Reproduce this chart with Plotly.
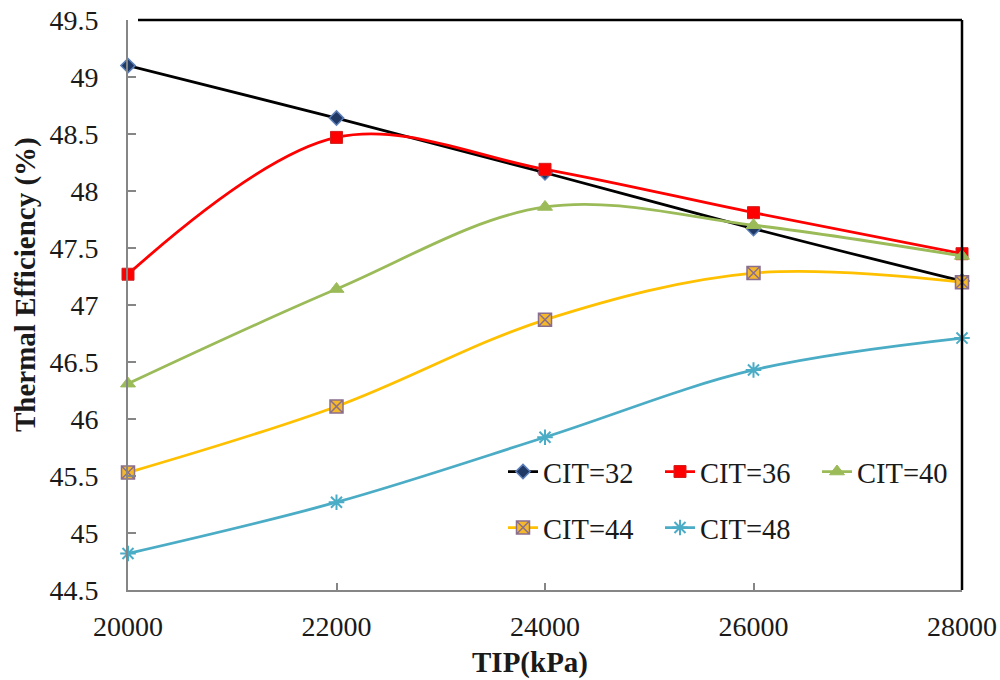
import plotly.graph_objects as go

tip = [20000, 22000, 24000, 26000, 28000]
cit32 = [49.10, 48.64, 48.16, 47.67, 47.21]
cit36 = [47.27, 48.47, 48.19, 47.81, 47.45]
cit40 = [46.31, 47.14, 47.86, 47.70, 47.43]
cit44 = [45.53, 46.11, 46.87, 47.28, 47.20]
cit48 = [44.82, 45.27, 45.84, 46.43, 46.71]
names = ["CIT=32", "CIT=36", "CIT=40", "CIT=44", "CIT=48"]
y_ticks = [44.5, 45, 45.5, 46, 46.5, 47, 47.5, 48, 48.5, 49, 49.5]
x_ticks = [20000, 22000, 24000, 26000, 28000]

FONT = "Times New Roman, Liberation Serif, Tinos, serif"
W, H = 1000, 680
ML, MR, MT, MB = 128, 38, 20, 90
PW, PH = W - ML - MR, H - MT - MB

def px_x(p):
    return (p - ML) / PW

def px_y(p):
    return (H - MB - p) / PH

styles = [
    dict(line=dict(color="black", width=2.8, shape="spline"),
         marker=dict(symbol="diamond", size=11, color="#1F3864",
                     line=dict(color="#5B7DB8", width=1.5)), legend="legend"),
    dict(line=dict(color="#FF0000", width=2.8, shape="spline"),
         marker=dict(symbol="square", size=12, color="#FF0000",
                     line=dict(color="#D02020", width=1)), legend="legend"),
    dict(line=dict(color="#9BBB59", width=2.8, shape="spline"),
         marker=dict(symbol="triangle-up", size=13, color="#9BBB59",
                     line=dict(color="#9BBB59", width=1)), legend="legend"),
    dict(line=dict(color="#FFC000", width=2.8, shape="spline"),
         marker=dict(symbol="square-x", size=13, color="#F5B829",
                     line=dict(color="#8A6E8E", width=1.5)), legend="legend2"),
    dict(line=dict(color="#4BACC6", width=2.8, shape="spline"),
         marker=dict(symbol="asterisk", size=13, color="#4BACC6",
                     line=dict(color="#4BACC6", width=2)), legend="legend2"),
]
series = [cit32, cit36, cit40, cit44, cit48]

fig = go.Figure()
for name, ys, st in zip(names, series, styles):
    fig.add_trace(go.Scatter(
        x=tip, y=ys, name=name, mode="lines+markers",
        line=st["line"], marker=st["marker"], legend=st["legend"],
        cliponaxis=False,
    ))

legend_common = dict(
    orientation="h", xanchor="left", yanchor="middle",
    font=dict(family=FONT, size=28.5, color="#1a1a1a"),
    bgcolor="rgba(0,0,0,0)", entrywidth=112, entrywidthmode="pixels",
    itemclick=False, itemdoubleclick=False,
)

fig.update_layout(
    width=W, height=H,
    margin=dict(l=ML, r=MR, t=MT, b=MB, pad=0),
    paper_bgcolor="white", plot_bgcolor="white",
    font=dict(family=FONT, size=28, color="#1a1a1a"),
    xaxis=dict(
        range=[20000, 28000], tickvals=x_ticks, ticktext=[str(v) for v in x_ticks],
        ticks="inside", ticklen=7, tickwidth=2, tickcolor="#868686",
        showline=True, linecolor="#868686", linewidth=2,
        showgrid=False, zeroline=False, automargin=False,
        tickfont=dict(family=FONT, size=28, color="#1a1a1a"),
        ticklabelstandoff=10,
    ),
    yaxis=dict(
        range=[44.5, 49.5], tickvals=y_ticks, ticktext=[f"{v:g}" for v in y_ticks],
        ticks="inside", ticklen=8, tickwidth=2, tickcolor="#868686",
        showline=True, linecolor="#868686", linewidth=2,
        showgrid=False, zeroline=False, automargin=False,
        tickfont=dict(family=FONT, size=28, color="#1a1a1a"),
        ticklabelstandoff=22,
    ),
    legend=dict(x=px_x(503), y=px_y(472), **legend_common),
    legend2=dict(x=px_x(503), y=px_y(528), **legend_common),
    showlegend=True,
    annotations=[
        dict(text="<b>TIP(kPa)</b>", xref="paper", yref="paper",
             x=px_x(530), y=px_y(662), xanchor="center", yanchor="middle",
             showarrow=False, font=dict(family=FONT, size=29, color="#1a1a1a")),
        dict(text="<b>Thermal Efficiency (%)</b>", xref="paper", yref="paper",
             x=px_x(25), y=px_y(285), xanchor="center", yanchor="middle",
             textangle=-90, showarrow=False,
             font=dict(family=FONT, size=29, color="#1a1a1a")),
    ],
    shapes=[
        dict(type="line", xref="paper", yref="paper", x0=px_x(138), x1=1.0,
             y0=1, y1=1, line=dict(color="black", width=2.5)),
        dict(type="line", xref="paper", yref="paper", x0=1, x1=1,
             y0=0, y1=1, line=dict(color="black", width=2.5)),
    ],
)

fig.write_html("out.html")
